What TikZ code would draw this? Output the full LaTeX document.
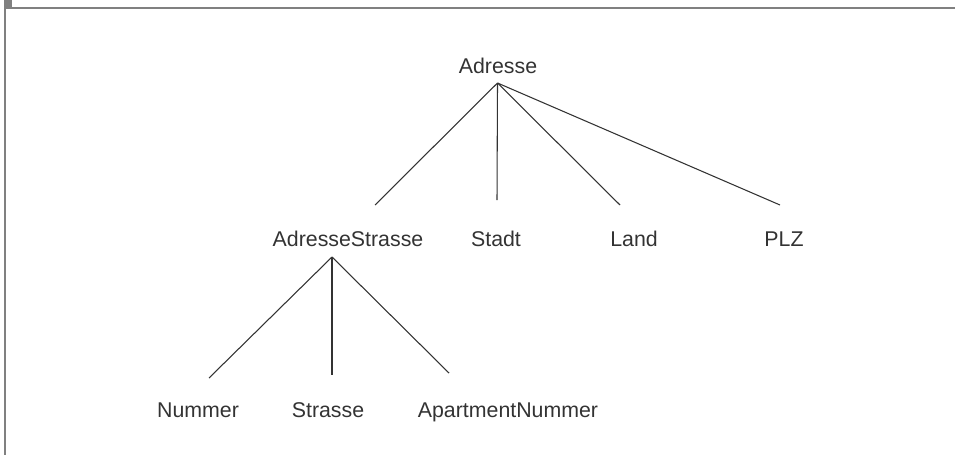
\documentclass[tikz,border=0pt]{standalone}
\usepackage{fontspec}
\setmainfont{Liberation Sans}
\usetikzlibrary{positioning}

\definecolor{rahmen}{gray}{0.5}
\definecolor{schrift}{gray}{0.2}

\begin{document}
\begin{tikzpicture}[
    x=0.75pt,
    y=0.75pt,
    font=\fontsize{16}{19}\selectfont,
    begriff/.style={anchor=base, inner sep=0pt, text=schrift},
    kante/.style={line width=0.8pt, draw=schrift}
]

\useasboundingbox (0,0) rectangle (955,455);

% Rahmen oben und links
\fill[rahmen]
    (4,455)
    rectangle
    (12,448);

\fill[rahmen]
    (4,448.3)
    rectangle
    (955,446.3);

\fill[rahmen]
    (4,0)
    rectangle
    (6.2,455);

% Begriffe
\node[begriff] (adr) at (498,382)
    {Adresse};

\node[begriff] (adrstr) at (348,209)
    {AdresseStrasse};

\node[begriff] (stadt) at (496,209)
    {Stadt};

\node[begriff] (land) at (634,209)
    {Land};

\node[begriff] (plz) at (784,209)
    {PLZ};

\node[begriff] (nr) at (198,38)
    {Nummer};

\node[begriff] (str) at (328,38)
    {Strasse};

\node[begriff] (aptnr) at (508,38)
    {ApartmentNummer};

% Verzweigungspunkte
\coordinate (adr-v) at (497.5,372);
\coordinate (adrstr-v) at (332,198);

\coordinate (adrstr-e) at (375,250);
\coordinate (stadt-e) at (497,255);
\coordinate (land-e) at (620,250);
\coordinate (plz-e) at (780,250);

\coordinate (nr-e) at (209,77);
\coordinate (str-e) at (332,80);
\coordinate (aptnr-e) at (449,82);

% Kanten
\foreach \ziel in {adrstr,stadt,land,plz}
    \draw[kante] (adr-v) -- (\ziel-e);

\foreach \ziel in {nr,str,aptnr}
    \draw[kante] (adrstr-v) -- (\ziel-e);

\end{tikzpicture}
\end{document}
